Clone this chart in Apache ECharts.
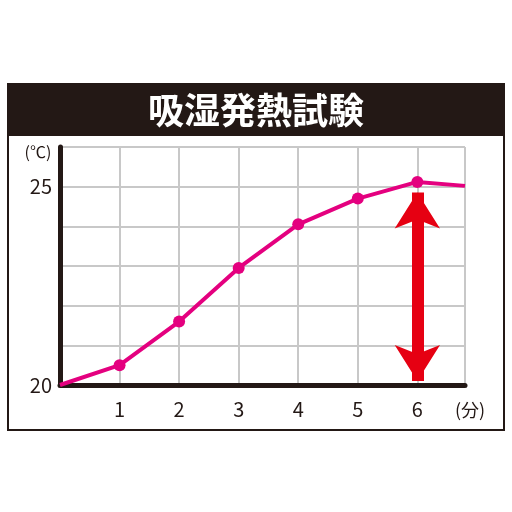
<!DOCTYPE html>
<html>
<head><meta charset="utf-8"><title>吸湿発熱試験</title></head>
<body style="margin:0;background:#fff">
<div id="main" style="width:512px;height:512px;"></div>
<script src="https://cdn.jsdelivr.net/npm/echarts@6/dist/echarts.min.js"></script>
<script>
var title = '吸湿発熱試験';
var minutes = [0, 1, 2, 3, 4, 5, 6, 6.8];
var temps = [20, 20.5, 21.6, 22.95, 24.05, 24.7, 25.12, 25.02];
var arrowFrom = [6, 24.85];
var arrowTo = [6, 20.1];

var chart = echarts.init(document.getElementById('main'));
var pts = minutes.map(function (m, i) {
  var dot = m > 0 && m <= 6;
  return { value: [m, temps[i]], symbolSize: dot ? 12 : 0 };
});
var font = '"Noto Sans CJK JP", sans-serif';
chart.setOption({
  animation: false,
  grid: { left: 60, right: 47, top: 147, bottom: 127 },
  xAxis: {
    type: 'value', min: 0, max: 6.8, interval: 1,
    axisLine: { lineStyle: { color: '#231815', width: 5 } },
    axisTick: { show: false },
    splitLine: { lineStyle: { color: '#c8c8c8', width: 2 } },
    axisLabel: { color: '#231815', fontSize: 20, fontFamily: font, margin: 14, showMaxLabel: false,
      formatter: function (v) { return v > 0 && v % 1 === 0 ? v : ''; } }
  },
  yAxis: {
    type: 'value', min: 20, max: 26, interval: 1,
    axisLine: { show: true, lineStyle: { color: '#231815', width: 5 } },
    axisTick: { show: false },
    splitLine: { lineStyle: { color: '#c8c8c8', width: 2 } },
    axisLabel: { color: '#231815', fontSize: 20, fontFamily: font, margin: 8,
      formatter: function (v) { return v === 20 || v === 25 ? v : ''; } }
  },
  series: [{
    type: 'line', data: pts, symbol: 'circle', clip: false,
    lineStyle: { color: '#e4007f', width: 4 },
    itemStyle: { color: '#e4007f' },
    markLine: {
      silent: true, symbol: ['arrow', 'arrow'], symbolSize: [34, 36],
      label: { show: false },
      lineStyle: { color: '#e60012', width: 12, type: 'solid' },
      data: [[{ coord: arrowFrom }, { coord: arrowTo }]]
    }
  }],
  graphic: [
    { type: 'rect', shape: { x: 8, y: 84, width: 496, height: 346 }, style: { fill: 'none', stroke: '#231815', lineWidth: 2 } },
    { type: 'rect', shape: { x: 8, y: 84, width: 496, height: 52 }, style: { fill: '#231815' } },
    { type: 'text', x: 256, y: 110, style: { text: title, fill: '#fff', fontSize: 36, fontWeight: 'bold', fontFamily: font, align: 'center', verticalAlign: 'middle' } },
    { type: 'text', x: 38, y: 152, style: { text: '(℃)', fill: '#231815', fontSize: 16, fontFamily: font, align: 'center', verticalAlign: 'middle' } },
    { type: 'text', x: 470, y: 410, style: { text: '(分)', fill: '#231815', fontSize: 18, fontFamily: font, align: 'center', verticalAlign: 'middle' } }
  ]
});
</script>
</body>
</html>
